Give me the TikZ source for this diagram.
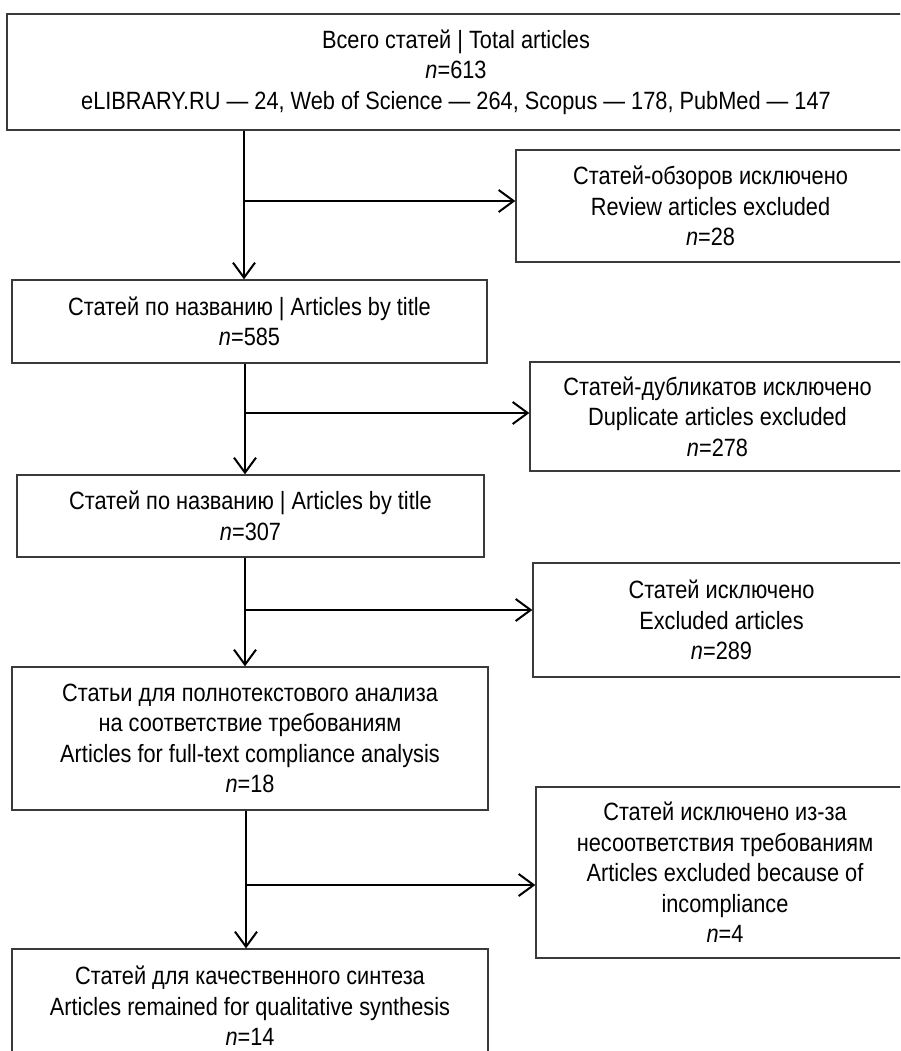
\documentclass[tikz,border=0pt]{standalone}
\usepackage{fontspec}
\setmainfont{Liberation Sans}[FakeStretch=0.87]
\usetikzlibrary{arrows.meta}
\definecolor{boxgray}{HTML}{3A3A3A}
\newcommand{\fs}{\fontsize{25}{30.5}\selectfont}
\begin{document}
\begin{tikzpicture}[x=1pt,y=-1pt,
  box/.style={draw=boxgray, line width=1.3pt, inner sep=0pt, align=center, font=\fs},
  arr/.style={line width=2.4pt, -{Straight Barb[length=15pt,width=22pt,line width=2pt]}},
  ln/.style={line width=2.4pt}]
\useasboundingbox (0,0) rectangle (900,1051);
\clip (0,0) rectangle (900,1051);
% left column
\node[box, minimum width=898pt, minimum height=116pt] (top) at (456,72)
  {Всего статей | Total articles\\ \textit{n}=613\\ eLIBRARY.RU — 24, Web of Science — 264, Scopus — 178, PubMed — 147};
\node[box, minimum width=475pt, minimum height=83pt] (b2) at (249.5,321.5)
  {Статей по названию | Articles by title\\ \textit{n}=585};
\node[box, minimum width=467pt, minimum height=82pt] (b3) at (250.5,516)
  {Статей по названию | Articles by title\\ \textit{n}=307};
\node[box, minimum width=476pt, minimum height=143pt] (b4) at (250,738.5)
  {Статьи для полнотекстового анализа\\ на соответствие требованиям\\ Articles for full-text compliance analysis\\ \textit{n}=18};
\node[box, minimum width=476pt, minimum height=114pt] (b5) at (250,1006)
  {Статей для качественного синтеза\\ Articles remained for qualitative synthesis\\ \textit{n}=14};
% right column
\node[box, minimum width=389pt, minimum height=112pt] (r1) at (710.5,206)
  {Статей-обзоров исключено\\ Review articles excluded\\ \textit{n}=28};
\node[box, minimum width=375pt, minimum height=109pt] (r2) at (717.5,416.5)
  {Статей-дубликатов исключено\\ Duplicate articles excluded\\ \textit{n}=278};
\node[box, minimum width=377pt, minimum height=114pt] (r3) at (721.5,620)
  {Статей исключено\\ Excluded articles\\ \textit{n}=289};
\node[box, minimum width=378pt, minimum height=171pt] (r4) at (725,872.5)
  {Статей исключено из-за\\ несоответствия требованиям\\ Articles excluded because of\\ incompliance\\ \textit{n}=4};
% junctions
\coordinate (j1) at (244,201);
\coordinate (j2) at (245,413);
\coordinate (j3) at (245,610);
\coordinate (j4) at (246,885);
% connectors
\draw[arr] (top.south -| j1) -- (b2.north -| j1);
\draw[arr] (j1) -- (j1 -| r1.west);
\draw[arr] (b2.south -| j2) -- (b3.north -| j2);
\draw[arr] (j2) -- (j2 -| r2.west);
\draw[arr] (b3.south -| j3) -- (b4.north -| j3);
\draw[arr] (j3) -- (j3 -| r3.west);
\draw[arr] (b4.south -| j4) -- (b5.north -| j4);
\draw[arr] (j4) -- (j4 -| r4.west);
\end{tikzpicture}
\end{document}
